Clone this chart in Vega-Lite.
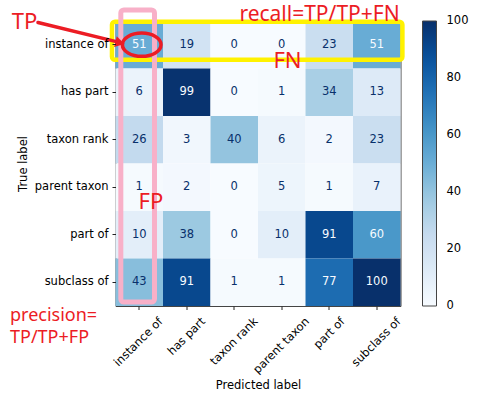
{
  "$schema": "https://vega.github.io/schema/vega-lite/v6.json",
  "width": 285,
  "height": 285,
  "autosize": {"type": "none"},
  "padding": {"left": 115.5, "top": 21, "right": 93.5, "bottom": 92},
  "background": "white",
  "config": {
    "view": {"stroke": "#444", "strokeWidth": 1},
    "font": "DejaVu Sans"
  },
  "datasets": {
    "cells": [
      {"t": "instance of", "p": "instance of", "n": 51},
      {"t": "instance of", "p": "has part", "n": 19},
      {"t": "instance of", "p": "taxon rank", "n": 0},
      {"t": "instance of", "p": "parent taxon", "n": 0},
      {"t": "instance of", "p": "part of", "n": 23},
      {"t": "instance of", "p": "subclass of", "n": 51},
      {"t": "has part", "p": "instance of", "n": 6},
      {"t": "has part", "p": "has part", "n": 99},
      {"t": "has part", "p": "taxon rank", "n": 0},
      {"t": "has part", "p": "parent taxon", "n": 1},
      {"t": "has part", "p": "part of", "n": 34},
      {"t": "has part", "p": "subclass of", "n": 13},
      {"t": "taxon rank", "p": "instance of", "n": 26},
      {"t": "taxon rank", "p": "has part", "n": 3},
      {"t": "taxon rank", "p": "taxon rank", "n": 40},
      {"t": "taxon rank", "p": "parent taxon", "n": 6},
      {"t": "taxon rank", "p": "part of", "n": 2},
      {"t": "taxon rank", "p": "subclass of", "n": 23},
      {"t": "parent taxon", "p": "instance of", "n": 1},
      {"t": "parent taxon", "p": "has part", "n": 2},
      {"t": "parent taxon", "p": "taxon rank", "n": 0},
      {"t": "parent taxon", "p": "parent taxon", "n": 5},
      {"t": "parent taxon", "p": "part of", "n": 1},
      {"t": "parent taxon", "p": "subclass of", "n": 7},
      {"t": "part of", "p": "instance of", "n": 10},
      {"t": "part of", "p": "has part", "n": 38},
      {"t": "part of", "p": "taxon rank", "n": 0},
      {"t": "part of", "p": "parent taxon", "n": 10},
      {"t": "part of", "p": "part of", "n": 91},
      {"t": "part of", "p": "subclass of", "n": 60},
      {"t": "subclass of", "p": "instance of", "n": 43},
      {"t": "subclass of", "p": "has part", "n": 91},
      {"t": "subclass of", "p": "taxon rank", "n": 1},
      {"t": "subclass of", "p": "parent taxon", "n": 1},
      {"t": "subclass of", "p": "part of", "n": 77},
      {"t": "subclass of", "p": "subclass of", "n": 100}
    ],
    "boxes": [
      {"box": "recall row", "u": -0.074, "v": 0.015, "u2": 6.04, "v2": 0.815},
      {"box": "precision column", "u": 0.112, "v": -0.232, "u2": 0.821, "v2": 5.916}
    ],
    "arrow": [
      {"u": -1.632, "v": 0.032, "u2": 0.06, "v2": 0.445, "hu": 0.095, "hv": 0.459}
    ],
    "circle": [
      {"u": 0.552, "v": 0.499}
    ],
    "notes": [
      {"label": "TP", "u": -1.916, "v": 0.168},
      {"label": "FN", "u": 3.621, "v": 0.996},
      {"label": "FP", "u": 0.747, "v": 3.95}
    ],
    "recall": [
      {"label": "recall=TP/TP+FN", "u": 4.295, "v": -0.006}
    ],
    "precision": [
      {"label": "precision=\nTP/TP+FP", "u": -2.221, "v": 6.316}
    ]
  },
  "layer": [
    {
      "data": {"name": "cells"},
      "encoding": {
        "x": {
          "field": "p", "type": "nominal",
          "sort": ["instance of", "has part", "taxon rank", "parent taxon", "part of", "subclass of"],
          "scale": {"paddingInner": 0, "paddingOuter": 0},
          "axis": {
            "title": "Predicted label",
            "labelAngle": -45,
            "labelAlign": "right",
            "labelBaseline": "middle",
            "labelPadding": 10,
            "labelOffset": {
              "condition": [
                {"test": "datum.value == 'instance of'", "value": 22},
                {"test": "datum.value == 'has part'", "value": 17},
                {"test": "datum.value == 'taxon rank'", "value": 22},
                {"test": "datum.value == 'parent taxon'", "value": 26},
                {"test": "datum.value == 'part of'", "value": 14}
              ],
              "value": 22.5
            },
            "tickSize": 3.5,
            "tickColor": "#222",
            "domain": false,
            "labelFont": "DejaVu Sans",
            "labelFontSize": 11.5,
            "labelColor": "#000",
            "titleFont": "DejaVu Sans",
            "titleFontSize": 11.5,
            "titleFontWeight": "normal",
            "titleColor": "#000",
            "titlePadding": 4
          }
        },
        "y": {
          "field": "t", "type": "nominal",
          "sort": ["instance of", "has part", "taxon rank", "parent taxon", "part of", "subclass of"],
          "scale": {"paddingInner": 0, "paddingOuter": 0},
          "axis": {
            "title": "True label",
            "labelPadding": 4,
            "tickSize": 3.5,
            "tickColor": "#222",
            "domain": false,
            "labelFont": "DejaVu Sans",
            "labelFontSize": 11.5,
            "labelColor": "#000",
            "titleFont": "DejaVu Sans",
            "titleFontSize": 11.5,
            "titleFontWeight": "normal",
            "titleColor": "#000",
            "titlePadding": 6
          }
        }
      },
      "layer": [
        {
          "mark": {"type": "rect"},
          "encoding": {
            "color": {
              "field": "n", "type": "quantitative",
              "scale": {
                "type": "linear",
                "domain": [0, 12.5, 25, 37.5, 50, 62.5, 75, 87.5, 100],
                "range": ["#f7fbff", "#deebf7", "#c6dbef", "#9ecae1", "#6baed6", "#4292c6", "#2171b5", "#08519c", "#08306b"],
                "interpolate": "rgb"
              },
              "legend": {
                "title": null,
                "orient": "right",
                "direction": "vertical",
                "offset": 21.5,
                "padding": 0,
                "gradientLength": 285,
                "gradientThickness": 14,
                "gradientStrokeColor": "#444",
                "gradientStrokeWidth": 1,
                "values": [0, 20, 40, 60, 80, 100],
                "labelFont": "DejaVu Sans",
                "labelFontSize": 11.5,
                "labelColor": "#000",
                "labelOffset": 10,
                "encode": {
                  "labels": {
                    "update": {"baseline": {"value": "middle"}}
                  }
                }
              }
            }
          }
        },
        {
          "mark": {"type": "text", "font": "DejaVu Sans", "fontSize": 11.5},
          "encoding": {
            "text": {"field": "n", "type": "quantitative"},
            "color": {
              "condition": {"test": "datum.n >= 50", "value": "#f7fbff"},
              "value": "#08306b"
            }
          }
        }
      ]
    },
    {
      "layer": [
        {
          "data": {"name": "boxes"},
          "transform": [{"filter": "datum.box == 'recall row'"}],
          "mark": {"type": "rect", "filled": false, "fill": null, "stroke": "#fff200", "strokeWidth": 4.5, "cornerRadius": 3},
          "encoding": {
            "x": {"field": "u", "type": "quantitative", "scale": {"domain": [0, 6], "nice": false, "zero": false}, "axis": null},
            "x2": {"field": "u2"},
            "y": {"field": "v", "type": "quantitative", "scale": {"domain": [0, 6], "nice": false, "zero": false, "reverse": true}, "axis": null},
            "y2": {"field": "v2"}
          }
        },
        {
          "data": {"name": "boxes"},
          "transform": [{"filter": "datum.box == 'precision column'"}],
          "mark": {"type": "rect", "filled": false, "fill": null, "stroke": "#f8b0c8", "strokeWidth": 5, "cornerRadius": 3},
          "encoding": {
            "x": {"field": "u", "type": "quantitative", "scale": {"domain": [0, 6], "nice": false, "zero": false}, "axis": null},
            "x2": {"field": "u2"},
            "y": {"field": "v", "type": "quantitative", "scale": {"domain": [0, 6], "nice": false, "zero": false, "reverse": true}, "axis": null},
            "y2": {"field": "v2"}
          }
        },
        {
          "data": {"name": "arrow"},
          "mark": {"type": "rule", "stroke": "#ec1c24", "strokeWidth": 3.5, "strokeCap": "round"},
          "encoding": {
            "x": {"field": "u", "type": "quantitative", "scale": {"domain": [0, 6], "nice": false, "zero": false}, "axis": null},
            "x2": {"field": "u2"},
            "y": {"field": "v", "type": "quantitative", "scale": {"domain": [0, 6], "nice": false, "zero": false, "reverse": true}, "axis": null},
            "y2": {"field": "v2"}
          }
        },
        {
          "data": {"name": "arrow"},
          "mark": {"type": "point", "shape": "triangle-right", "filled": true, "fill": "#ec1c24", "opacity": 1, "size": 120, "angle": 14, "strokeWidth": 0},
          "encoding": {
            "x": {"field": "hu", "type": "quantitative", "scale": {"domain": [0, 6], "nice": false, "zero": false}, "axis": null},
            "y": {"field": "hv", "type": "quantitative", "scale": {"domain": [0, 6], "nice": false, "zero": false, "reverse": true}, "axis": null}
          }
        },
        {
          "data": {"name": "circle"},
          "mark": {"type": "point", "shape": "M -1 0 A 1 0.6 0 1 0 1 0 A 1 0.6 0 1 0 -1 0 Z", "filled": false, "stroke": "#ec1c24", "strokeWidth": 3.5, "size": 1490, "opacity": 1},
          "encoding": {
            "x": {"field": "u", "type": "quantitative", "scale": {"domain": [0, 6], "nice": false, "zero": false}, "axis": null},
            "y": {"field": "v", "type": "quantitative", "scale": {"domain": [0, 6], "nice": false, "zero": false, "reverse": true}, "axis": null}
          }
        },
        {
          "data": {"name": "notes"},
          "mark": {"type": "text", "font": "Noto Sans", "fontSize": 22, "align": "center", "baseline": "alphabetic", "color": "#ec1c24"},
          "encoding": {
            "x": {"field": "u", "type": "quantitative", "scale": {"domain": [0, 6], "nice": false, "zero": false}, "axis": null},
            "y": {"field": "v", "type": "quantitative", "scale": {"domain": [0, 6], "nice": false, "zero": false, "reverse": true}, "axis": null},
            "text": {"field": "label"}
          }
        },
        {
          "data": {"name": "recall"},
          "mark": {"type": "text", "font": "Noto Sans", "fontSize": 21, "align": "center", "baseline": "alphabetic", "color": "#ec1c24"},
          "encoding": {
            "x": {"field": "u", "type": "quantitative", "scale": {"domain": [0, 6], "nice": false, "zero": false}, "axis": null},
            "y": {"field": "v", "type": "quantitative", "scale": {"domain": [0, 6], "nice": false, "zero": false, "reverse": true}, "axis": null},
            "text": {"field": "label"}
          }
        },
        {
          "data": {"name": "precision"},
          "mark": {"type": "text", "font": "Noto Sans", "fontSize": 18, "align": "left", "baseline": "alphabetic", "color": "#ec1c24", "lineBreak": "\n", "lineHeight": 22},
          "encoding": {
            "x": {"field": "u", "type": "quantitative", "scale": {"domain": [0, 6], "nice": false, "zero": false}, "axis": null},
            "y": {"field": "v", "type": "quantitative", "scale": {"domain": [0, 6], "nice": false, "zero": false, "reverse": true}, "axis": null},
            "text": {"field": "label"}
          }
        }
      ]
    }
  ],
  "resolve": {"scale": {"x": "independent", "y": "independent"}}
}
